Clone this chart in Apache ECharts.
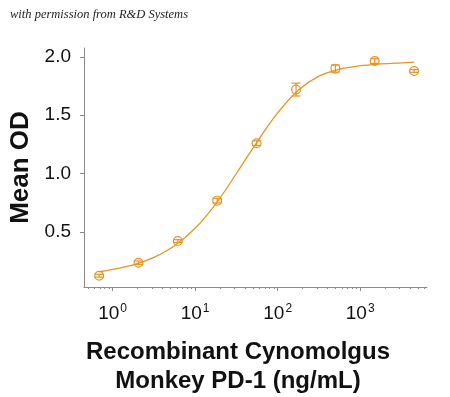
<!DOCTYPE html>
<html>
<head>
<meta charset="utf-8">
<script src="https://cdn.jsdelivr.net/npm/echarts@6/dist/echarts.min.js"></script>
<style>
  html, body { margin: 0; padding: 0; background: #fff; }
  #chart { width: 450px; height: 397px; }
</style>
</head>
<body>
<div id="chart"></div>
<script>
// concentrations (ng/mL), 3-fold dilution
const conc = [0.686, 2.06, 6.17, 18.5, 55.6, 167, 500, 1500, 4500]
const meanOD = [0.123, 0.234, 0.42, 0.767, 1.26, 1.72, 1.90, 1.965, 1.88]
const errOD = [0.012, 0.015, 0.012, 0.02, 0.02, 0.055, 0.03, 0.02, 0.012]

// fitted curve, every quarter decade
const fitX = [0.686, 1.0, 1.78, 3.16, 5.62, 10, 17.8, 31.6, 56.2, 100, 178, 316, 562, 1000, 1778, 3162, 4500]
const fitY = [0.157, 0.178, 0.215, 0.28, 0.38, 0.53, 0.74, 1.0, 1.27, 1.52, 1.715, 1.835, 1.895, 1.925, 1.94, 1.95, 1.955]

const yTicks = [0.5, 1.0, 1.5, 2.0]
const xMajor = [1, 10, 100, 1000]
const xMinor = [0.5, 0.6, 0.7, 0.8, 0.9, 2, 3, 4, 5, 6, 7, 8, 9, 20, 30, 40, 50, 60, 70, 80, 90,
  200, 300, 400, 500, 600, 700, 800, 900, 2000, 3000, 4000, 5000, 6000]

const orange = '#E39526'
const axisGrey = '#8a8a8a'

const chart = echarts.init(document.getElementById('chart'))

const pointData = conc.map((c, i) => [c, meanOD[i], errOD[i]])
const fitData = fitX.map((c, i) => [c, fitY[i]])

chart.setOption({
  animation: false,
  grid: { left: 84, right: 23, top: 48, bottom: 110, outerBoundsMode: 'none', containLabel: false },
  xAxis: [
    {
      type: 'log',
      logBase: 10,
      min: 0.45,
      max: 6450,
      axisLine: { lineStyle: { color: axisGrey, width: 1 } },
      axisTick: { customValues: xMajor, length: 4, lineStyle: { color: axisGrey } },
      splitLine: { show: false },
      axisLabel: {
        customValues: xMajor,
        margin: 16,
        formatter: function (v) {
          return '{b|10}{s|' + Math.round(Math.log10(v)) + '}'
        },
        rich: {
          b: { fontFamily: 'Liberation Sans', fontSize: 19, color: '#111' },
          s: { fontFamily: 'Liberation Sans', fontSize: 12, color: '#111', verticalAlign: 'top', padding: [0, 0, 10, 1] }
        }
      }
    },
    {
      type: 'log',
      logBase: 10,
      min: 0.45,
      max: 6450,
      position: 'bottom',
      axisLine: { show: false },
      axisTick: { customValues: xMinor, length: 2, lineStyle: { color: axisGrey } },
      axisLabel: { show: false },
      splitLine: { show: false }
    }
  ],
  yAxis: {
    type: 'value',
    min: 0.026,
    max: 2.077,
    axisLine: { show: true, lineStyle: { color: axisGrey, width: 1 } },
    axisTick: { show: true, customValues: yTicks, length: 4, lineStyle: { color: axisGrey } },
    splitLine: { show: false },
    axisLabel: {
      customValues: yTicks,
      margin: 13,
      fontFamily: 'Liberation Sans',
      fontSize: 19,
      color: '#111',
      formatter: v => v.toFixed(1)
    },
    name: 'Mean OD',
    nameLocation: 'middle',
    nameGap: 50,
    nameTextStyle: { fontFamily: 'Liberation Sans', fontWeight: 'bold', fontSize: 26, color: '#111' }
  },
  graphic: [
    {
      type: 'text',
      left: 10,
      top: 8,
      style: {
        text: 'with permission from R&D Systems',
        fontFamily: 'Liberation Serif',
        fontStyle: 'italic',
        fontSize: 12.5,
        fill: '#222'
      }
    },
    {
      type: 'text',
      x: 238,
      y: 367,
      style: {
        text: 'Recombinant Cynomolgus\nMonkey PD-1 (ng/mL)',
        fontFamily: 'Liberation Sans',
        fontWeight: 'bold',
        fontSize: 24,
        lineHeight: 29,
        fill: '#111',
        align: 'center',
        verticalAlign: 'middle'
      }
    }
  ],
  series: [
    {
      name: 'fit',
      type: 'line',
      data: fitData,
      smooth: 0.4,
      symbol: 'none',
      lineStyle: { color: orange, width: 1.3 }
    },
    {
      name: 'points',
      type: 'custom',
      data: pointData,
      renderItem: function (params, api) {
        const x = api.value(0)
        const y = api.value(1)
        const e = api.value(2)
        const c = api.coord([x, y])
        const top = api.coord([x, y + e])
        const bot = api.coord([x, y - e])
        const cap = 4.5
        const st = { stroke: orange, lineWidth: 1.2, fill: null }
        return {
          type: 'group',
          children: [
            { type: 'circle', shape: { cx: c[0], cy: c[1], r: 4.4 }, style: st },
            { type: 'line', shape: { x1: c[0], y1: top[1], x2: c[0], y2: bot[1] }, style: st },
            { type: 'line', shape: { x1: c[0] - cap, y1: top[1], x2: c[0] + cap, y2: top[1] }, style: st },
            { type: 'line', shape: { x1: c[0] - cap, y1: bot[1], x2: c[0] + cap, y2: bot[1] }, style: st }
          ]
        }
      }
    }
  ]
})
</script>
</body>
</html>
